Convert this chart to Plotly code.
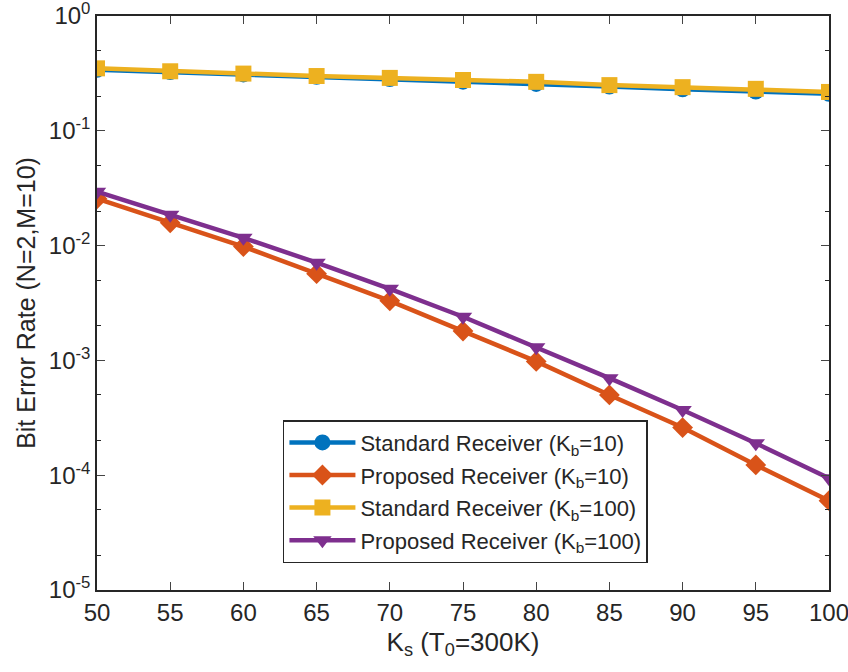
import plotly.graph_objects as go

ks = [50, 55, 60, 65, 70, 75, 80, 85, 90, 95, 100]
std_kb10 = [0.34, 0.325, 0.31, 0.295, 0.282, 0.268, 0.256, 0.243, 0.23, 0.22, 0.21]
prop_kb10 = [0.0256, 0.0158, 0.0098, 0.0057, 0.0033, 0.0018, 0.00098, 0.0005, 0.00026, 0.000123, 0.00006]
std_kb100 = [0.35, 0.33, 0.315, 0.30, 0.289, 0.277, 0.267, 0.25, 0.24, 0.232, 0.218]
prop_kb100 = [0.0295, 0.0186, 0.0117, 0.0071, 0.0042, 0.0024, 0.0013, 0.0007, 0.00037, 0.00019, 0.000094]

names = ["Standard Receiver (K<sub>b</sub>=10)", "Proposed Receiver (K<sub>b</sub>=10)",
         "Standard Receiver (K<sub>b</sub>=100)", "Proposed Receiver (K<sub>b</sub>=100)"]
colors = ["#0072BD", "#D95319", "#EDB120", "#7E2F8E"]
symbols = ["circle", "diamond", "square", "triangle-down"]
series = [std_kb10, prop_kb10, std_kb100, prop_kb100]

ytickvals = [1e-5, 1e-4, 1e-3, 1e-2, 1e-1, 1]
yticktext = ["10<sup>-5</sup>", "10<sup>-4</sup>", "10<sup>-3</sup>", "10<sup>-2</sup>", "10<sup>-1</sup>", "10<sup>0</sup>"]

FONT = "Liberation Sans, Arial, sans-serif"

fig = go.Figure()
for i, (n, c, s, y) in enumerate(zip(names, colors, symbols, series)):
    fig.add_trace(go.Scatter(x=ks, y=y, name=n, mode="lines+markers", legendgroup=f"g{i}",
                             line=dict(color=c, width=4.5),
                             marker=dict(symbol=s, size=16, color=c)))

fig.update_layout(
    width=848, height=672,
    margin=dict(l=97, r=19, t=16, b=82, autoexpand=False),
    plot_bgcolor="white", paper_bgcolor="white",
    font=dict(family=FONT, size=24, color="#262626"),
    showlegend=True,
    legend=dict(x=0.254, y=0.296, xanchor="left", yanchor="top",
                bgcolor="white", bordercolor="#262626", borderwidth=1.5,
                font=dict(size=22, family=FONT), itemwidth=66,
                tracegroupgap=1),
    xaxis=dict(range=[50, 100], tickvals=ks, ticks="inside", ticklen=8,
               showline=True, linecolor="#262626", linewidth=1.5, mirror="allticks",
               showgrid=False, zeroline=False, ticklabeloverflow="allow",
               title=dict(text="K<sub>s</sub> (T<sub>0</sub>=300K)", font=dict(size=26), standoff=8),
               tickfont=dict(size=24)),
    yaxis=dict(type="log", range=[-5, 0], tickvals=ytickvals, ticktext=yticktext,
               ticks="inside", ticklen=8, ticklabeloverflow="allow",
               minor=dict(ticks="inside", ticklen=4, tickcolor="#262626", showgrid=False),
               showline=True, linecolor="#262626", linewidth=1.5, mirror="allticks",
               showgrid=False, zeroline=False,
               title=dict(text="Bit Error Rate (N=2,M=10)", font=dict(size=25), standoff=6),
               tickfont=dict(size=24)),
)

fig.write_html("out.html", config={"displayModeBar": False},
               post_script="document.body.style.margin='0';document.body.style.overflow='hidden';")
